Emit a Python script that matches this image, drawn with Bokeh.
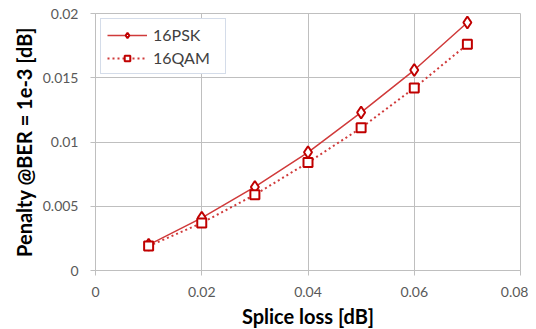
from bokeh.plotting import figure
from bokeh.models import FixedTicker, Legend, LegendItem
from bokeh.embed import file_html
from bokeh.resources import INLINE

splice_loss = [0.01, 0.02, 0.03, 0.04, 0.05, 0.06, 0.07]
psk16 = [0.0020, 0.0041, 0.0065, 0.0092, 0.0123, 0.0156, 0.0193]
qam16 = [0.0019, 0.0037, 0.0059, 0.0084, 0.0111, 0.0142, 0.0176]
x_ticks = [0, 0.02, 0.04, 0.06, 0.08]
x_tick_labels = ["0", "0.02", "0.04", "0.06", "0.08"]
y_ticks = [0, 0.005, 0.01, 0.015, 0.02]
y_tick_labels = ["0", "0.005", "0.01", "0.015", "0.02"]

FONT = "Lato"
RED = "#c00000"
LINE_RED = "#d03a3a"

p = figure(frame_width=425, frame_height=257, output_backend="svg", toolbar_location=None,
           x_range=(0, 0.08), y_range=(0, 0.02),
           min_border_left=95, min_border_right=8, min_border_top=13, min_border_bottom=51)
p.outline_line_color = "#bfbfbf"
p.background_fill_color = "white"
p.border_fill_color = "white"

for ax, ticks, labels in ((p.xaxis, x_ticks, x_tick_labels), (p.yaxis, y_ticks, y_tick_labels)):
    ax.ticker = FixedTicker(ticks=ticks)
    ax.major_label_overrides = {t: l for t, l in zip(ticks, labels)}
    ax.axis_line_color = "#bfbfbf"
    ax.major_tick_line_color = "#bfbfbf"
    ax.major_tick_out = 5
    ax.major_tick_in = 0
    ax.minor_tick_line_color = None
    ax.major_label_text_font = FONT
    ax.major_label_text_font_size = "14px"
    ax.major_label_text_color = "#595959"
    ax.axis_label_text_font = FONT
    ax.axis_label_text_font_style = "bold"
    ax.axis_label_text_font_size = "20px"
    ax.axis_label_text_color = "#000000"

p.xaxis.axis_label = "Splice loss [dB]"
p.yaxis.axis_label = "Penalty @BER = 1e-3 [dB]"
p.xaxis.major_label_standoff = 11
p.yaxis.major_label_standoff = 12
p.xaxis.axis_label_standoff = 4
p.yaxis.axis_label_standoff = 4

p.xgrid.ticker = FixedTicker(ticks=x_ticks)
p.ygrid.ticker = FixedTicker(ticks=y_ticks)
p.xgrid.grid_line_color = "#bfbfbf"
p.ygrid.grid_line_color = "#bfbfbf"

l1 = p.line(splice_loss, psk16, line_color=LINE_RED, line_width=1.5)
m1 = p.scatter(splice_loss, psk16, marker="diamond", size=12, line_color=RED,
               fill_color="white", line_width=2)
l2 = p.line(splice_loss, qam16, line_color=LINE_RED, line_width=2, line_dash="2 3")
m2 = p.scatter(splice_loss, qam16, marker="square", size=9, line_color=RED,
               fill_color="white", line_width=2)

legend = Legend(items=[LegendItem(label="16PSK", renderers=[l1, m1]),
                       LegendItem(label="16QAM", renderers=[l2, m2])],
                location="top_left", margin=5)
legend.label_text_font = FONT
legend.label_text_font_size = "16px"
legend.label_text_color = "#404040"
legend.border_line_color = "#a9b9d3"
legend.border_line_width = 1
legend.glyph_width = 40
legend.glyph_height = 14
legend.label_height = 14
legend.label_width = 66
legend.spacing = 4
legend.padding = 6
legend.label_standoff = 6
legend.background_fill_alpha = 1
p.add_layout(legend)

open("out.html", "w").write(file_html(p, INLINE))
